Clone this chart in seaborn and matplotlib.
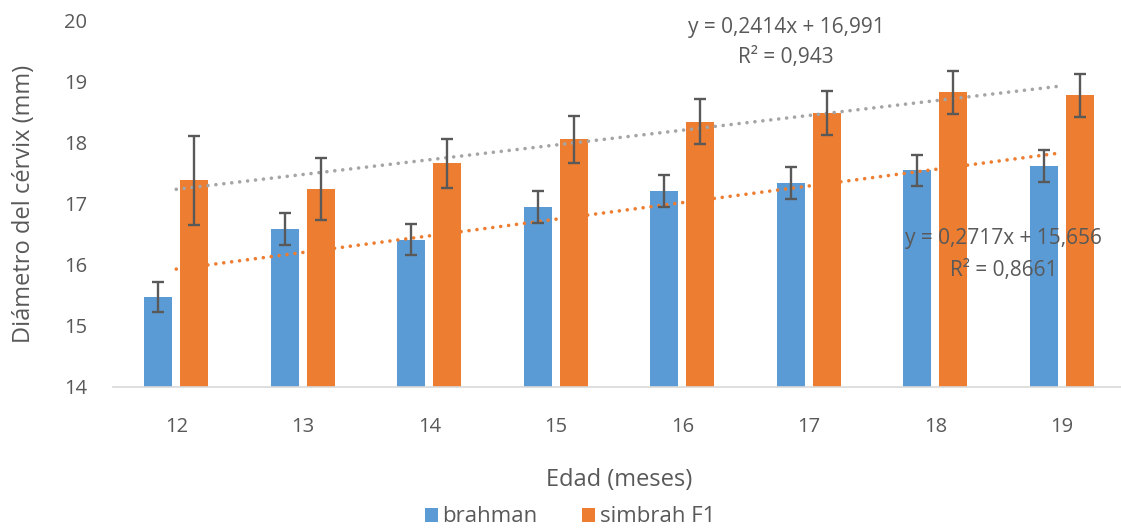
import numpy as np
import pandas as pd
import matplotlib
matplotlib.use("Agg")
import matplotlib.pyplot as plt
import seaborn as sns

# Data
edad = [12, 13, 14, 15, 16, 17, 18, 19]
series = ["brahman", "simbrah F1"]
brahman = [15.47, 16.58, 16.41, 16.94, 17.21, 17.34, 17.54, 17.61]
brahman_err = [0.25, 0.26, 0.26, 0.26, 0.26, 0.26, 0.26, 0.26]
simbrah = [17.38, 17.24, 17.66, 18.05, 18.34, 18.48, 18.82, 18.77]
simbrah_err = [0.73, 0.51, 0.40, 0.38, 0.37, 0.36, 0.35, 0.35]

# Excel linear trendlines (x = 1..8)
trend_simbrah = (0.2414, 16.991)
trend_brahman = (0.2717, 15.656)
eq_simbrah = ["y = 0,2414x + 16,991", "R² = 0,943"]
eq_brahman = ["y = 0,2717x + 15,656", "R² = 0,8661"]

colors = ["#5B9BD5", "#ED7D31"]
text_col = "#595959"


def main():
    sns.set_theme(style="white")
    plt.rcParams["font.family"] = ["Open Sans", "DejaVu Sans"]

    df = pd.DataFrame({
        "edad": edad * 2,
        "valor": brahman + simbrah,
        "serie": [series[0]] * len(edad) + [series[1]] * len(edad),
    })

    fig = plt.figure(figsize=(11.21, 5.31), dpi=100)
    ax = fig.add_axes([113 / 1121, 1 - 387 / 531, 1012 / 1121, 367 / 531])

    sns.barplot(data=df, x="edad", y="valor", hue="serie", hue_order=series,
                palette=colors, saturation=1, width=0.564, gap=0.216, errorbar=None,
                legend=False, ax=ax, zorder=2, linewidth=0)

    # error bars on top of the bars
    for cont, vals, errs in zip(ax.containers, [brahman, simbrah], [brahman_err, simbrah_err]):
        xs = [p.get_x() + p.get_width() / 2 for p in cont.patches]
        ax.errorbar(xs, vals, yerr=errs, fmt="none", ecolor=text_col,
                    elinewidth=1.7, capsize=4.3, capthick=1.7, zorder=5)

    # trendlines
    xt = np.arange(1, len(edad) + 1)
    for (m, b), c in [(trend_simbrah, "#A5A5A5"), (trend_brahman, "#ED7D31")]:
        ax.plot(xt - 1, m * xt + b, color=c, lw=2.6, linestyle=(0, (0.01, 2.2)),
                dash_capstyle="round", zorder=4)

    ax.text(4.82, 19.87, eq_simbrah[0], ha="center", va="center", fontsize=15, color=text_col)
    ax.text(4.82, 19.38, eq_simbrah[1], ha="center", va="center", fontsize=15, color=text_col)
    ax.text(6.54, 16.43, eq_brahman[0], ha="center", va="center", fontsize=15, color=text_col, zorder=6)
    ax.text(6.54, 15.91, eq_brahman[1], ha="center", va="center", fontsize=15, color=text_col, zorder=6)

    ax.set_xlim(-0.5, 7.5)
    ax.set_ylim(14, 20)
    ax.set_yticks(range(14, 21))
    ax.tick_params(axis="x", length=0, pad=21.6, labelsize=14.5, labelcolor=text_col)
    ax.tick_params(axis="y", length=0, pad=18.7, labelsize=14.5, labelcolor=text_col)
    ax.set_xlabel("Edad (meses)", fontsize=17, color=text_col, labelpad=22)
    ax.set_ylabel("Diámetro del cérvix (mm)", fontsize=17, color=text_col, labelpad=20)

    for s in ["top", "right", "left"]:
        ax.spines[s].set_visible(False)
    ax.spines["bottom"].set_color("#D9D9D9")
    ax.spines["bottom"].set_linewidth(1.2)
    ax.grid(False)

    fig.legend(handles=ax.containers, labels=series, loc="center",
               bbox_to_anchor=(570 / 1121, 1 - 517 / 531), ncol=2, frameon=False,
               fontsize=16, labelcolor=text_col, handlelength=0.6, handleheight=0.6,
               handletextpad=0.2, columnspacing=2.0)

    fig.savefig("out.png", dpi=100)


if __name__ == "__main__":
    main()
